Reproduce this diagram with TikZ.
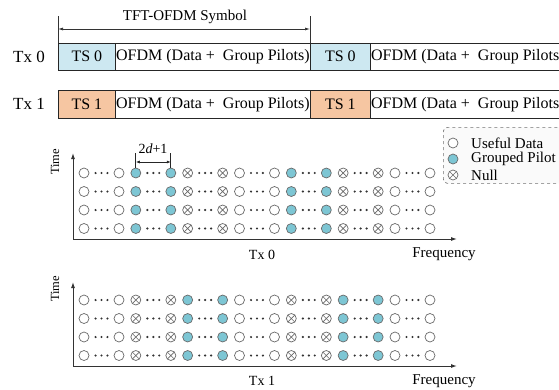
\documentclass[tikz,border=0pt]{standalone}
\usepackage{fontspec}
\setmainfont{Liberation Serif}
\usetikzlibrary{arrows.meta,calc}
\definecolor{tsblue}{RGB}{205,232,241}
\definecolor{tsorange}{RGB}{246,198,162}
\definecolor{pilot}{RGB}{125,198,212}
\definecolor{ringc}{RGB}{105,105,105}
\begin{document}
\begin{tikzpicture}[x=1pt,y=-1pt,
  every node/.style={inner sep=0pt},
  cell/.style={draw=black!85, line width=0.8pt, anchor=north west, font=\fontsize{16}{16}\selectfont},
  gd/.style={circle, draw=ringc, line width=0.7pt, fill=white, minimum size=10pt},
  gp/.style={gd, fill=pilot},
  gn/.style={gd, path picture={\draw[ringc, line width=0.6pt] (path picture bounding box.north west) -- (path picture bounding box.south east) (path picture bounding box.north east) -- (path picture bounding box.south west);}},
  axisline/.style={draw=black!80, line width=1pt, -{Latex[length=6pt,width=4pt]}},
  lbl/.style={font=\fontsize{15}{15}\selectfont},
  dotc/.style={fill=black!80}]
\clip (0,0) rectangle (559,389);
\path[use as bounding box] (0,0) rectangle (559,389);

% top symbol dimension
\coordinate (dl0) at (58,16);
\coordinate (dl1) at (58,42.7);
\coordinate (dr0) at (310,16);
\coordinate (dr1) at (310,42.7);
\draw[black!80, line width=0.7pt] (dl0) -- (dl1) (dr0) -- (dr1);
\coordinate (al) at (58,29);
\coordinate (ar) at (310,29);
\draw[black!80, line width=0.7pt, {Latex[length=5pt,width=3pt]}-{Latex[length=5pt,width=3pt]}] (al) -- (ar);
\node[font=\fontsize{15}{15}\selectfont] (sym) at (185,17) {TFT-OFDM Symbol};

% Tx rows
\node[font=\fontsize{17}{17}\selectfont] (tx0) at (29,56.5) {Tx 0};
\node[font=\fontsize{17}{17}\selectfont] (tx1) at (29,104) {Tx 1};

\node[cell, fill=tsblue, minimum width=57pt, minimum height=27.3pt] (ts0a) at (58,42.7) {TS 0};
\node[cell, minimum width=195pt, minimum height=27.3pt] (of0a) at (115,42.7) {OFDM (Data +~ Group Pilots)};
\node[cell, fill=tsblue, minimum width=60pt, minimum height=27.3pt] (ts0b) at (310,42.7) {TS 0};
\node[cell, minimum width=195pt, minimum height=27.3pt] (of0b) at (370,42.7) {OFDM (Data +~ Group Pilots)};

\node[cell, fill=tsorange, minimum width=57pt, minimum height=28pt] (ts1a) at (58,90) {TS 1};
\node[cell, minimum width=195pt, minimum height=28pt] (of1a) at (115,90) {OFDM (Data +~ Group Pilots)};
\node[cell, fill=tsorange, minimum width=60pt, minimum height=28pt] (ts1b) at (310,90) {TS 1};
\node[cell, minimum width=195pt, minimum height=28pt] (of1b) at (370,90) {OFDM (Data +~ Group Pilots)};

% legend
\node[draw=black!55, dashed, line width=0.7pt, rounded corners=4pt, fill=black!2, anchor=north west, minimum width=130pt, minimum height=56pt] (leg) at (443,127) {};
\node[gd] (lg1) at (453,143) {};
\node[gp] (lg2) at (453,159) {};
\node[gn] (lg3) at (453,175) {};
\node[lbl, anchor=west] (lt1) at (471,143) {Useful Data};
\node[lbl, anchor=west] (lt2) at (471,159) {Grouped Pilot};
\node[lbl, anchor=west] (lt3) at (471,175) {Null};

% Tx0 grid
\coordinate (o0) at (73,239);
\coordinate (t0) at (73,153);
\coordinate (f0) at (457,239);
\draw[axisline] (o0) -- (t0);
\draw[axisline] (o0) -- (f0);
\node[rotate=90, font=\fontsize{12.5}{12.5}\selectfont] (time0) at (55,162) {Time};
\node[font=\fontsize{14}{14}\selectfont] (cap0) at (262,255) {Tx 0};
\node[lbl] (fr0) at (444,254) {Frequency};

\foreach \r/\y in {1/173,2/191.5,3/210,4/228.5} {
  \foreach \t [count=\k from 0] in {d,p,n,d,p,n,d} {
    \pgfmathsetmacro\xa{84+51.83*\k}
    \pgfmathsetmacro\xb{\xa+35}
    \node[g\t] (A\r-\k-a) at (\xa,\y) {};
    \node[g\t] (A\r-\k-b) at (\xb,\y) {};
    \foreach \f in {0.33,0.5,0.67} {
      \fill[dotc] ($(A\r-\k-a)!\f!(A\r-\k-b)$) circle (1.2pt);
    }
  }
}

% 2d+1 marker
\coordinate (m0) at (135.83,153);
\coordinate (m1) at (135.83,168);
\coordinate (m2) at (170.83,153);
\coordinate (m3) at (170.83,168);
\draw[black!85, line width=0.7pt] (m0) -- (m1) (m2) -- (m3);
\coordinate (ma) at (135.83,162);
\coordinate (mb) at (170.83,162);
\draw[black!85, line width=0.7pt, {Latex[length=4pt,width=3pt]}-{Latex[length=4pt,width=3pt]}] (ma) -- (mb);
\node[font=\fontsize{14}{14}\selectfont] (dlab) at (153,149) {2\textit{d}+1};

% Tx1 grid
\coordinate (o1) at (73,366);
\coordinate (t1) at (73,282);
\coordinate (f1) at (457,366);
\draw[axisline] (o1) -- (t1);
\draw[axisline] (o1) -- (f1);
\node[rotate=90, font=\fontsize{12.5}{12.5}\selectfont] (time1) at (55,289) {Time};
\node[font=\fontsize{14}{14}\selectfont] (cap1) at (262,381) {Tx 1};
\node[lbl] (fr1) at (444,381) {Frequency};

\foreach \r/\y in {1/300,2/318.5,3/337,4/355.5} {
  \foreach \t [count=\k from 0] in {d,n,p,d,n,p,d} {
    \pgfmathsetmacro\xa{84+51.83*\k}
    \pgfmathsetmacro\xb{\xa+35}
    \node[g\t] (B\r-\k-a) at (\xa,\y) {};
    \node[g\t] (B\r-\k-b) at (\xb,\y) {};
    \foreach \f in {0.33,0.5,0.67} {
      \fill[dotc] ($(B\r-\k-a)!\f!(B\r-\k-b)$) circle (1.2pt);
    }
  }
}
\end{tikzpicture}
\end{document}
